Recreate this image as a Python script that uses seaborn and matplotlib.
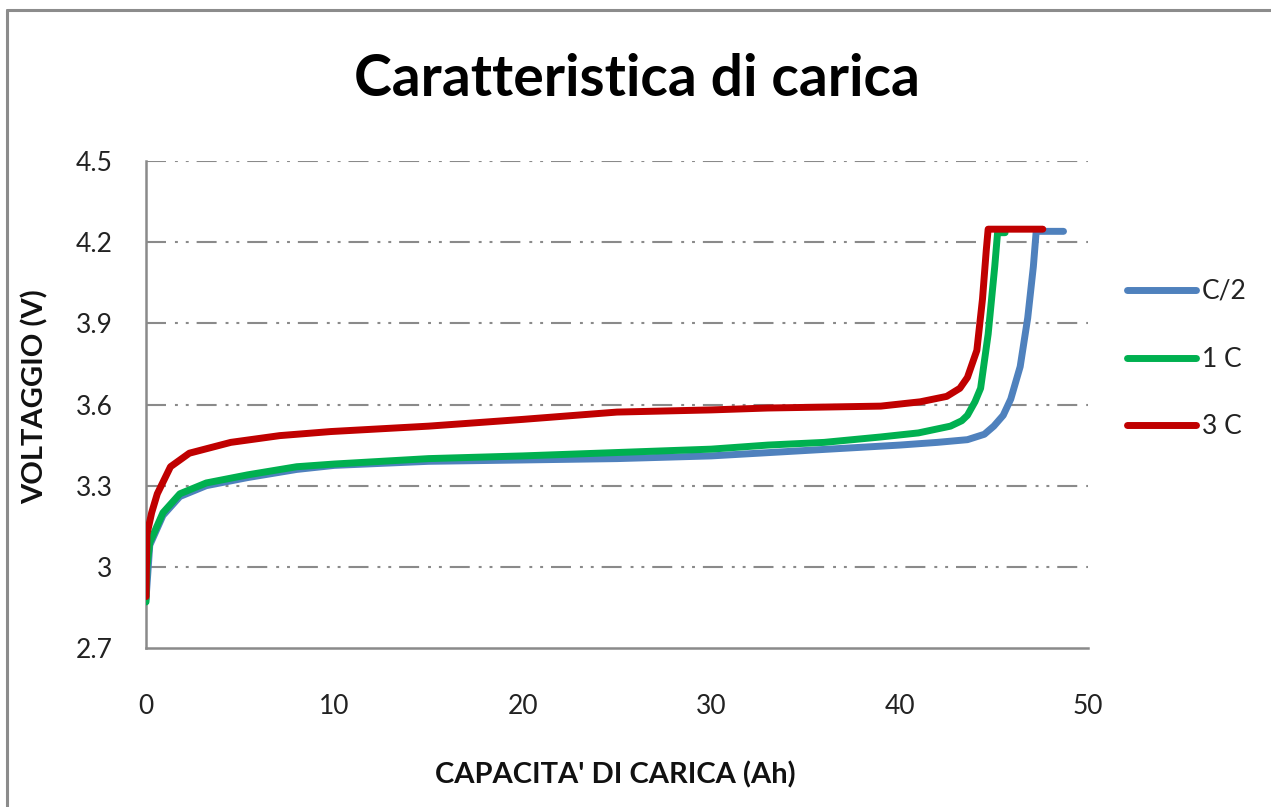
import matplotlib
matplotlib.use("Agg")
import matplotlib.pyplot as plt
import seaborn as sns
import pandas as pd
from matplotlib.lines import Line2D

# ---- data ----
series_names = ["C/2", "1 C", "3 C"]
colors = ["#4F81BD", "#00B050", "#C00000"]

cap_c2 = [0, 0.2, 0.9, 1.8, 3.2, 5.4, 8, 10, 15, 20, 25, 30, 35, 40, 42, 43.6, 44.5, 45, 45.5, 45.9, 46.4, 46.8, 47.1, 47.25, 48.7]
volt_c2 = [2.88, 3.08, 3.19, 3.26, 3.30, 3.33, 3.36, 3.375, 3.39, 3.395, 3.40, 3.41, 3.43, 3.45, 3.46, 3.47, 3.49, 3.52, 3.56, 3.62, 3.74, 3.92, 4.11, 4.24, 4.24]

cap_1c = [0, 0.05, 0.2, 0.9, 1.8, 3.2, 5.4, 8, 10, 15, 20, 24, 30, 33, 36, 39, 41, 42.7, 43.3, 43.6, 44.0, 44.3, 44.7, 45.05, 45.2, 45.6]
volt_1c = [2.87, 3.0, 3.09, 3.20, 3.27, 3.31, 3.34, 3.37, 3.38, 3.40, 3.41, 3.42, 3.435, 3.45, 3.46, 3.48, 3.495, 3.52, 3.54, 3.56, 3.61, 3.66, 3.86, 4.11, 4.235, 4.235]

cap_3c = [0, 0.05, 0.3, 0.6, 1.3, 2.3, 4.5, 7.1, 9.8, 15, 20, 25, 30, 33, 39, 41.1, 42.5, 43.2, 43.6, 43.8, 44.1, 44.4, 44.6, 44.7, 47.6]
volt_3c = [2.89, 3.12, 3.20, 3.27, 3.37, 3.42, 3.46, 3.485, 3.50, 3.52, 3.545, 3.572, 3.58, 3.587, 3.594, 3.61, 3.63, 3.66, 3.70, 3.74, 3.80, 3.99, 4.17, 4.248, 4.248]

y_ticks = [2.7, 3.0, 3.3, 3.6, 3.9, 4.2, 4.5]
y_ticklabels = ["2.7", "3", "3.3", "3.6", "3.9", "4.2", "4.5"]
x_ticks = [0, 10, 20, 30, 40, 50]

title = "Caratteristica di carica"
xlabel = "CAPACITA' DI CARICA (Ah)"
ylabel = "VOLTAGGIO (V)"

frames = []
for name, xs, ys in [(series_names[0], cap_c2, volt_c2),
                     (series_names[1], cap_1c, volt_1c),
                     (series_names[2], cap_3c, volt_3c)]:
    frames.append(pd.DataFrame({"cap": xs, "volt": ys, "serie": name}))
df = pd.concat(frames, ignore_index=True)

sns.set_theme(style="white")
plt.rcParams["font.family"] = ["Lato", "DejaVu Sans"]

W, H = 1271, 807
fig = plt.figure(figsize=(W / 100, H / 100), dpi=100)
ax = fig.add_axes([146 / W, 1 - 648 / H, (1088 - 146) / W, (648 - 161) / H])

# figure frame (only left and top visible in the cropped reference)
fig.lines.append(Line2D([7 / W, 7 / W], [0, 1 - 10 / H], transform=fig.transFigure,
                        color="#8c8c8c", linewidth=2.2))
fig.lines.append(Line2D([7 / W, 1], [1 - 10 / H, 1 - 10 / H], transform=fig.transFigure,
                        color="#8c8c8c", linewidth=2.2))

# gridlines (long dash, dot, dot)
grid_style = (0, (9.6, 4.3, 1.4, 3.8, 1.4, 3.8))
for yv in y_ticks[1:]:
    ax.axhline(yv, color="#8a8a8a", linewidth=1.5, linestyle=grid_style, zorder=1)

sns.lineplot(data=df, x="cap", y="volt", hue="serie", palette=dict(zip(series_names, colors)),
             hue_order=series_names, sort=False, estimator=None,
             linewidth=5, ax=ax, zorder=3)

ax.set_xlim(0, 50)
ax.set_ylim(2.7, 4.5)
ax.set_xticks(x_ticks)
ax.set_xticklabels([str(v) for v in x_ticks])
ax.set_yticks(y_ticks)
ax.set_yticklabels(y_ticklabels)
ax.tick_params(axis="both", length=0, labelsize=19, colors="#222222")
ax.tick_params(axis="x", pad=33)
ax.tick_params(axis="y", pad=24)

for side in ["top", "right"]:
    ax.spines[side].set_visible(False)
for side in ["left", "bottom"]:
    ax.spines[side].set_color("#8a8a8a")
    ax.spines[side].set_linewidth(1.8)

ax.set_xlabel(xlabel, fontsize=21, fontweight="bold", color="#111111")
ax.set_ylabel(ylabel, fontsize=21, fontweight="bold", color="#111111")
ax.xaxis.set_label_coords((615 - 146) / (1088 - 146), (648 - 775) / (648 - 161))
ax.xaxis.label.set_verticalalignment("center")
ax.yaxis.set_label_coords((35 - 146) / (1088 - 146), (648 - 397) / (648 - 161))
ax.yaxis.label.set_verticalalignment("center")

fig.text(637 / W, 1 - 80 / H, title, ha="center", va="center", fontsize=41,
         fontweight="bold", color="#000000")

leg = ax.legend(loc="upper left", bbox_to_anchor=((1127 - 146) / 942, (648 - 279) / 487),
                frameon=False, fontsize=19, handlelength=2.6, handletextpad=0.25,
                labelspacing=1.62, borderaxespad=0, borderpad=0)
for line in leg.get_lines():
    line.set_linewidth(5)
    line.set_solid_capstyle("round")
for t in leg.get_texts():
    t.set_color("#222222")

fig.savefig("out.png", dpi=100)
